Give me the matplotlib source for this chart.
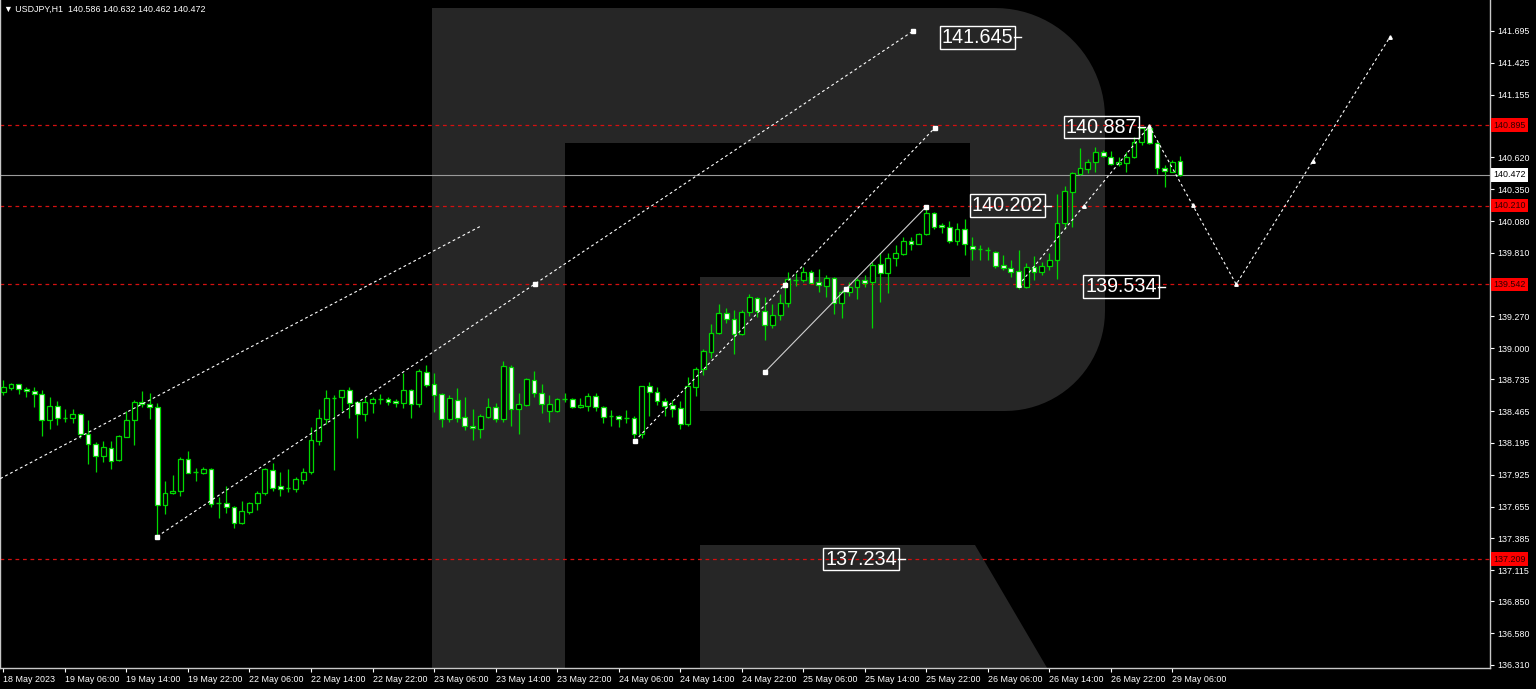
import numpy as np
import matplotlib
matplotlib.use("Agg")
import matplotlib.pyplot as plt
from matplotlib.patches import Polygon, Rectangle
from matplotlib.transforms import blended_transform_factory

# USDJPY H1 candles, 18 May 2023 22:00 -> 29 May 2023 07:00
opens = [
    138.631, 138.665, 138.693, 138.653, 138.639, 138.611, 138.390, 138.509, 138.407, 138.404,
    138.441, 138.268, 138.186, 138.087, 138.155, 138.050, 138.248, 138.390, 138.543, 138.523,
    138.498, 137.668, 137.767, 137.787, 138.056, 137.951, 137.937, 137.974, 137.682, 137.682,
    137.653, 137.512, 137.611, 137.682, 137.767, 137.965, 137.829, 137.809, 137.804, 137.880,
    137.946, 138.214, 138.399, 138.580, 138.588, 138.645, 138.540, 138.438, 138.537, 138.566,
    138.569, 138.552, 138.532, 138.645, 138.523, 138.795, 138.693, 138.608, 138.396, 138.560,
    138.413, 138.342, 138.311, 138.418, 138.498, 138.396, 138.843, 138.481, 138.518, 138.730,
    138.617, 138.469, 138.469, 138.566, 138.566, 138.498, 138.509, 138.597, 138.503, 138.424,
    138.424, 138.410, 138.404, 138.268, 138.679, 138.625, 138.554, 138.518, 138.495, 138.356,
    138.673, 138.821, 138.971, 139.127, 139.297, 139.249, 139.118, 139.305, 139.424, 139.319,
    139.197, 139.280, 139.382, 139.580, 139.580, 139.645, 139.560, 139.531, 139.594, 139.382,
    139.481, 139.523, 139.580, 139.560, 139.713, 139.637, 139.764, 139.801, 139.914, 139.886,
    139.968, 140.152, 140.047, 140.033, 139.914, 140.010, 139.869, 139.840, 139.835, 139.819,
    139.705, 139.682, 139.654, 139.523, 139.688, 139.645, 139.699, 139.750, 140.061, 140.330,
    140.477, 140.523, 140.580, 140.669, 140.627, 140.562, 140.571, 140.622, 140.754, 140.868,
    140.740, 140.533, 140.499, 140.586]
highs = [
    138.730, 138.704, 138.696, 138.668, 138.673, 138.645, 138.583, 138.552, 138.481, 138.481,
    138.452, 138.390, 138.206, 138.214, 138.214, 138.263, 138.469, 138.560, 138.639, 138.622,
    138.537, 137.872, 137.923, 138.073, 138.129, 137.985, 137.993, 137.982, 137.738, 137.829,
    137.659, 137.702, 137.696, 137.789, 137.979, 138.027, 137.951, 137.974, 137.908, 137.985,
    138.333, 138.484, 138.645, 138.602, 138.645, 138.673, 138.554, 138.583, 138.588, 138.611,
    138.583, 138.566, 138.787, 138.654, 138.821, 138.858, 138.787, 138.617, 138.602, 138.659,
    138.583, 138.484, 138.441, 138.574, 138.532, 138.891, 138.858, 138.617, 138.744, 138.807,
    138.696, 138.602, 138.574, 138.617, 138.574, 138.574, 138.617, 138.617, 138.509, 138.475,
    138.433, 138.475, 138.424, 138.679, 138.716, 138.668, 138.574, 138.560, 138.552, 138.753,
    138.838, 138.991, 139.206, 139.373, 139.339, 139.325, 139.325, 139.457, 139.438, 139.438,
    139.373, 139.457, 139.648, 139.636, 139.688, 139.665, 139.676, 139.623, 139.608, 139.495,
    139.566, 139.594, 139.623, 139.736, 139.807, 139.807, 139.877, 139.948, 139.942, 139.977,
    140.202, 140.158, 140.061, 140.084, 140.061, 140.095, 139.948, 139.877, 139.857, 139.825,
    139.790, 139.748, 139.835, 139.722, 139.779, 139.736, 139.807, 140.310, 140.378, 140.494,
    140.698, 140.607, 140.712, 140.684, 140.675, 140.627, 140.669, 140.792, 140.882, 140.887,
    140.754, 140.556, 140.599, 140.632]
lows = [
    138.602, 138.645, 138.611, 138.588, 138.503, 138.257, 138.314, 138.348, 138.376, 138.362,
    138.234, 138.013, 137.951, 138.036, 137.971, 138.044, 138.243, 138.178, 138.498, 138.396,
    137.398, 137.588, 137.761, 137.744, 137.937, 137.874, 137.931, 137.648, 137.554, 137.597,
    137.472, 137.506, 137.591, 137.625, 137.753, 137.787, 137.744, 137.781, 137.781, 137.843,
    137.928, 138.175, 138.356, 137.965, 138.469, 138.410, 138.240, 138.382, 138.447, 138.526,
    138.518, 138.503, 138.495, 138.404, 138.503, 138.673, 138.461, 138.333, 138.370, 138.370,
    138.305, 138.220, 138.240, 138.404, 138.376, 138.376, 138.339, 138.271, 138.509, 138.588,
    138.447, 138.376, 138.461, 138.546, 138.495, 138.495, 138.469, 138.469, 138.367, 138.339,
    138.333, 138.362, 138.234, 138.234, 138.424, 138.518, 138.427, 138.413, 138.314, 138.339,
    138.594, 138.773, 138.920, 139.121, 139.212, 138.951, 139.112, 139.274, 139.268, 139.070,
    139.169, 139.240, 139.353, 139.531, 139.563, 139.552, 139.478, 139.433, 139.291, 139.258,
    139.444, 139.418, 139.523, 139.169, 139.395, 139.466, 139.696, 139.793, 139.835, 139.882,
    139.962, 140.010, 139.981, 139.897, 139.874, 139.793, 139.750, 139.745, 139.750, 139.680,
    139.662, 139.608, 139.505, 139.509, 139.580, 139.623, 139.665, 139.585, 140.010, 140.033,
    140.472, 140.491, 140.500, 140.620, 140.556, 140.545, 140.494, 140.613, 140.726, 140.732,
    140.477, 140.372, 140.497, 140.462]
closes = [
    138.673, 138.696, 138.651, 138.634, 138.611, 138.390, 138.509, 138.404, 138.410, 138.441,
    138.268, 138.186, 138.087, 138.158, 138.044, 138.254, 138.390, 138.540, 138.523, 138.498,
    137.668, 137.767, 137.787, 138.056, 137.942, 137.948, 137.976, 137.673, 137.680, 137.653,
    137.517, 137.617, 137.687, 137.772, 137.971, 137.815, 137.806, 137.807, 137.889, 137.951,
    138.220, 138.410, 138.580, 138.581, 138.645, 138.532, 138.438, 138.540, 138.569, 138.564,
    138.546, 138.532, 138.645, 138.523, 138.807, 138.688, 138.602, 138.399, 138.574, 138.404,
    138.342, 138.319, 138.424, 138.498, 138.396, 138.849, 138.481, 138.523, 138.736, 138.617,
    138.523, 138.523, 138.569, 138.564, 138.503, 138.518, 138.597, 138.503, 138.418, 138.422,
    138.396, 138.412, 138.268, 138.679, 138.625, 138.554, 138.509, 138.486, 138.356, 138.679,
    138.824, 138.977, 139.127, 139.302, 139.246, 139.118, 139.305, 139.433, 139.319, 139.197,
    139.283, 139.382, 139.585, 139.578, 139.645, 139.557, 139.535, 139.594, 139.382, 139.481,
    139.523, 139.580, 139.557, 139.708, 139.637, 139.764, 139.807, 139.914, 139.886, 139.971,
    140.152, 140.033, 140.027, 139.911, 140.010, 139.883, 139.840, 139.838, 139.833, 139.696,
    139.685, 139.645, 139.523, 139.693, 139.645, 139.702, 139.750, 140.061, 140.336, 140.486,
    140.528, 140.585, 140.669, 140.633, 140.562, 140.585, 140.622, 140.754, 140.868, 140.740,
    140.533, 140.505, 140.585, 140.472]

time_labels = ["18 May 2023", "19 May 06:00", "19 May 14:00", "19 May 22:00", "22 May 06:00",
               "22 May 14:00", "22 May 22:00", "23 May 06:00", "23 May 14:00", "23 May 22:00",
               "24 May 06:00", "24 May 14:00", "24 May 22:00", "25 May 06:00", "25 May 14:00",
               "25 May 22:00", "26 May 06:00", "26 May 14:00", "26 May 22:00", "29 May 06:00"]
price_ticks = [141.695, 141.425, 141.155, 140.620, 140.350, 140.080, 139.810, 139.270, 139.000,
               138.735, 138.465, 138.195, 137.925, 137.655, 137.385, 137.115, 136.850, 136.580, 136.310]

red_levels = [140.895, 140.210, 139.542, 137.209]
bid = 140.472
title = "\u25bc USDJPY,H1  140.586 140.632 140.462 140.472"

# drawn objects: (bar index, price) anchors
trend_a = ([-0.4, 62.1], [137.892, 140.038])
trend_b = ([20.0, 118.3], [137.400, 141.695])
trend_c = ([82.1, 121.1], [138.211, 140.871])
solid_line = ([99.0, 120.0], [138.797, 140.202])
zigzag_x = [132.0, 149.0, 160.3, 180.3]
zigzag_y = [139.534, 140.887, 139.542, 141.645]
box_text = ["141.645", "140.887", "140.202", "139.534", "137.234"]
box_x = [131.3, 147.4, 135.2, 150.0, 116.2]
box_y = [141.640, 140.879, 140.212, 139.524, 137.209]

W, H = 1536, 689
green = "#00d800"
fig = plt.figure(figsize=(W / 100, H / 100), dpi=100, facecolor="black")
ax = fig.add_axes([0, 21 / H, 1490 / W, 668 / H])
ax.set_facecolor("black")
ax.set_xlim(-0.44, 193.3)
ax.set_ylim(136.283, 141.958)


# background "R" watermark, figure pixels (y from top)
def px(pts):
    return [(x / W, 1 - y / H) for x, y in pts]


def arc(cx, cy, r, a0, a1, n=24):
    t = np.radians(np.linspace(a0, a1, n))
    return list(zip(cx + r * np.cos(t), cy - r * np.sin(t)))


logo = [(432, 8), (995, 8)] + arc(995, 118, 110, 90, 0) + arc(1005, 311, 100, 0, -90) + \
       [(700, 411), (700, 277), (970, 277), (970, 143), (565, 143), (565, 690), (432, 690)]
leg = [(700, 545), (975, 545), (1060, 690), (700, 690)]
for shape in (logo, leg):
    ax.add_patch(Polygon(px(shape), closed=True, transform=fig.transFigure,
                         facecolor="#262626", edgecolor="none", zorder=0))

# levels
for lvl in red_levels:
    ax.axhline(lvl, color="#d41010", lw=0.9, ls=(0, (3, 3)), zorder=1)
ax.axhline(bid, color="#9a9a9a", lw=0.8, zorder=1)

# candles
o = np.array(opens); h = np.array(highs); l = np.array(lows); c = np.array(closes)
idx = np.arange(len(o))
ax.vlines(idx, l, h, color=green, lw=0.9, zorder=3)
bw = 0.62
for i in idx:
    lo, hi = min(o[i], c[i]), max(o[i], c[i])
    if hi - lo < 0.004:
        ax.hlines(o[i], i - bw / 2, i + bw / 2, color=green, lw=1.0, zorder=4)
    else:
        fc = "white" if c[i] < o[i] else "black"
        ax.add_patch(Rectangle((i - bw / 2, lo), bw, hi - lo, facecolor=fc,
                               edgecolor=green, lw=0.9, zorder=4))

# trend lines
dash = (0, (2.5, 2.5))
ax.plot(*trend_a, color="white", lw=0.8, ls=dash, zorder=5)
for tx, ty in (trend_b, trend_c):
    ax.plot(tx, ty, color="white", lw=0.8, ls=dash, zorder=5)
    ax.plot([tx[0], np.mean(tx), tx[1]], [ty[0], np.mean(ty), ty[1]], "s",
            color="white", ms=2.5, zorder=6)
ax.plot(*solid_line, color="#d0d0d0", lw=0.8, zorder=5)
ax.plot([solid_line[0][0], np.mean(solid_line[0]), solid_line[0][1]],
        [solid_line[1][0], np.mean(solid_line[1]), solid_line[1][1]], "s",
        color="white", ms=2.5, zorder=6)
ax.plot(zigzag_x, zigzag_y, color="white", lw=0.8, ls=dash, zorder=5)
mid_x = [(a + b) / 2 for a, b in zip(zigzag_x[:-1], zigzag_x[1:])]
mid_y = [(a + b) / 2 for a, b in zip(zigzag_y[:-1], zigzag_y[1:])]
ax.plot(zigzag_x + mid_x, zigzag_y + mid_y, "^", color="white", ms=2.5, zorder=6)

# price boxes
for txt, bx, by in zip(box_text, box_x, box_y):
    ax.text(bx, by, txt, ha="right", va="center", color="white", fontsize=14.2,
            family="Liberation Sans", zorder=7,
            bbox=dict(boxstyle="square,pad=0.1", fc="none", ec="white", lw=1.0))
    ax.plot([bx + 0.15, bx + 1.0], [by, by], color="white", lw=1.0, zorder=7)

# axes styling
for side in ("left", "bottom", "right"):
    ax.spines[side].set_color("#c8c8c8")
    ax.spines[side].set_linewidth(1.0)
ax.spines["top"].set_visible(False)
ax.yaxis.tick_right()
ax.set_yticks(price_ticks)
ax.set_yticklabels([f"{p:.3f}" for p in price_ticks])
ax.set_xticks(np.arange(0, len(o), 8))
ax.set_xticklabels(time_labels, ha="left")
ax.tick_params(colors="white", labelsize=6.4, length=3, width=0.8, pad=2)
for lab in ax.get_xticklabels() + ax.get_yticklabels():
    lab.set_family("Liberation Sans")

blend = blended_transform_factory(ax.transAxes, ax.transData)
for lvl in red_levels:
    ax.text(1.0 + 3 / 1490, lvl, f"{lvl:.3f}", transform=blend, ha="left", va="center",
            fontsize=6.4, family="Liberation Sans", color="#300000", clip_on=False, zorder=8,
            bbox=dict(boxstyle="square,pad=0.25", fc="#ff0000", ec="none"))
ax.text(1.0 + 3 / 1490, bid, f"{bid:.3f}", transform=blend, ha="left", va="center",
        fontsize=6.4, family="Liberation Sans", color="black", clip_on=False, zorder=8,
        bbox=dict(boxstyle="square,pad=0.25", fc="white", ec="none"))

ax.text(4 / 1490, 1 - 9 / 668, title, transform=ax.transAxes, color="white", fontsize=6.4,
        family=["Liberation Sans", "DejaVu Sans"], va="center", ha="left")

fig.savefig("out.png", dpi=100, facecolor="black")
